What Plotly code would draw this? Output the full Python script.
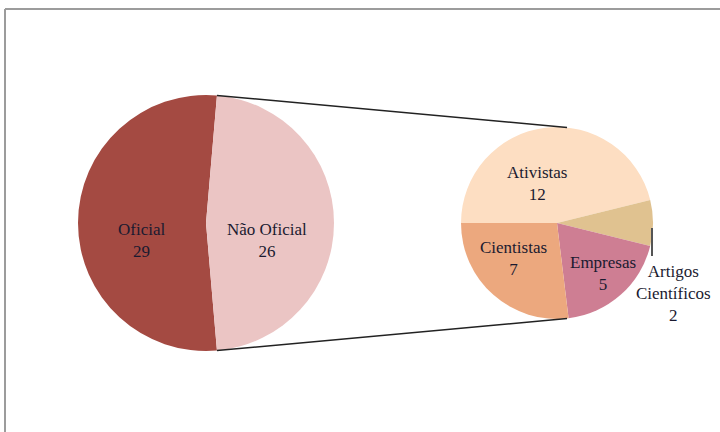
import math
import plotly.graph_objects as go

# ---- data ----
main_labels = ["Oficial", "Não Oficial"]
main_values = [29, 26]
main_colors = ["#A44A42", "#EBC5C4"]

sub_labels = ["Ativistas", "Artigos<br>Científicos", "Empresas", "Cientistas"]
sub_values = [12, 2, 5, 7]
sub_colors = ["#FDDEC2", "#E0C290", "#CE7E93", "#ECA87E"]

W, H = 720, 432
FONT = "Liberation Serif"
TXT = "#1A1A30"

# geometry (pixels)
L_CX, L_CY, L_R = 206, 223, 128
R_CX, R_CY, R_R = 557, 223, 96

def dom(cx, cy, r):
    return dict(x=[(cx - r) / W, (cx + r) / W], y=[(H - cy - r) / H, (H - cy + r) / H])

total = sum(main_values)
rot_left = 90 + 180 * main_values[1] / total

fig = go.Figure()
fig.add_trace(go.Pie(
    labels=main_labels, values=main_values, sort=False, direction="clockwise",
    rotation=rot_left, domain=dom(L_CX, L_CY, L_R), textinfo="none",
    marker=dict(colors=main_colors, line=dict(width=0)), showlegend=False,
))
fig.add_trace(go.Pie(
    labels=sub_labels, values=sub_values, sort=False, direction="clockwise",
    rotation=270, domain=dom(R_CX, R_CY, R_R), textinfo="none",
    marker=dict(colors=sub_colors, line=dict(width=0)), showlegend=False,
))

def px(x, y):
    return x / W, (H - y) / H

shapes = []
# connector lines
half = math.pi * main_values[1] / total
tx = L_CX + L_R * math.cos(half)
ty = L_CY - L_R * math.sin(half)
by = L_CY + L_R * math.sin(half)
ang = math.radians(84)
rx = R_CX + R_R * math.cos(ang)
rty = R_CY - R_R * math.sin(ang)
rby = R_CY + R_R * math.sin(ang)
for (x0, y0, x1, y1) in [(tx, ty, rx, rty), (tx, by, rx, rby)]:
    a = px(x0, y0); b = px(x1, y1)
    shapes.append(dict(type="line", xref="paper", yref="paper", x0=a[0], y0=a[1], x1=b[0], y1=b[1],
                       line=dict(color="#222222", width=1.5)))
# leader line for Artigos
a = px(652, 228); b = px(652, 256)
shapes.append(dict(type="line", xref="paper", yref="paper", x0=a[0], y0=a[1], x1=b[0], y1=b[1],
                   line=dict(color="#555555", width=2)))
# frame border
shapes.append(dict(type="line", xref="paper", yref="paper", x0=5 / W, y0=(H - 9) / H, x1=1, y1=(H - 9) / H,
                   line=dict(color="#9C9C9C", width=2)))
shapes.append(dict(type="line", xref="paper", yref="paper", x0=5 / W, y0=(H - 9) / H, x1=5 / W, y1=0,
                   line=dict(color="#9C9C9C", width=2)))

# labels
label_pos = {
    "Oficial": (141, 240),
    "Não Oficial": (267, 240),
    "Ativistas": (537, 183),
    "Cientistas": (513, 258),
    "Empresas": (603, 273),
    "Artigos<br>Científicos": (673, 293),
}
annotations = []
for lab, val in list(zip(main_labels, main_values)) + list(zip(sub_labels, sub_values)):
    x, y = label_pos[lab]
    ax, ay = px(x, y)
    annotations.append(dict(
        x=ax, y=ay, xref="paper", yref="paper", showarrow=False,
        text=f"{lab}<br>{val}", font=dict(family=FONT, size=17, color=TXT),
        xanchor="center", yanchor="middle", align="center",
    ))

fig.update_layout(
    width=W, height=H, margin=dict(l=0, r=0, t=0, b=0),
    paper_bgcolor="white", plot_bgcolor="white",
    shapes=shapes, annotations=annotations,
)
fig.write_html("out.html", config={"displayModeBar": False},
               post_script="document.body.style.margin='0';document.body.style.overflow='hidden';")
